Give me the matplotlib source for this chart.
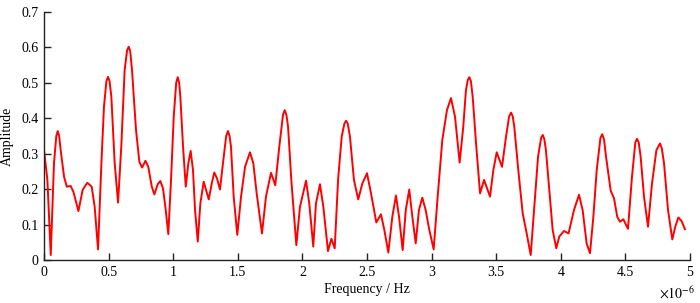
import matplotlib
matplotlib.use("Agg")
import matplotlib.pyplot as plt
from matplotlib.ticker import FuncFormatter, MultipleLocator

# Frequency in units of 1e-6 Hz, amplitude.
freq = [
    0.000, 0.026, 0.052, 0.077, 0.095, 0.106, 0.117, 0.129, 0.155, 0.176,
    0.206, 0.227, 0.266, 0.299, 0.335, 0.369, 0.392, 0.418, 0.444, 0.464,
    0.483, 0.495, 0.507, 0.521, 0.547, 0.573, 0.598, 0.624, 0.643, 0.655,
    0.667, 0.681, 0.712, 0.738, 0.759, 0.785, 0.807, 0.834, 0.854, 0.880,
    0.900, 0.921, 0.942, 0.962, 0.983, 1.004, 1.023, 1.035, 1.046, 1.055,
    1.076, 1.097, 1.117, 1.135, 1.153, 1.169, 1.190, 1.210, 1.236, 1.254,
    1.275, 1.298, 1.318, 1.339, 1.362, 1.385, 1.410, 1.424, 1.436, 1.447,
    1.468, 1.496, 1.525, 1.556, 1.594, 1.620, 1.646, 1.687, 1.718, 1.757,
    1.790, 1.821, 1.850, 1.863, 1.876, 1.889, 1.914, 1.953, 1.981, 2.028,
    2.053, 2.084, 2.105, 2.136, 2.162, 2.198, 2.224, 2.250, 2.276, 2.304,
    2.325, 2.338, 2.351, 2.368, 2.399, 2.432, 2.464, 2.500, 2.531, 2.572,
    2.608, 2.634, 2.665, 2.696, 2.724, 2.748, 2.776, 2.800, 2.827, 2.851,
    2.877, 2.902, 2.928, 2.954, 2.980, 3.016, 3.047, 3.083, 3.119, 3.150,
    3.181, 3.217, 3.245, 3.266, 3.280, 3.292, 3.304, 3.318, 3.344, 3.375,
    3.406, 3.452, 3.478, 3.504, 3.545, 3.576, 3.600, 3.615, 3.628, 3.640,
    3.671, 3.705, 3.736, 3.767, 3.793, 3.824, 3.848, 3.860, 3.872, 3.885,
    3.911, 3.937, 3.965, 3.988, 4.025, 4.060, 4.102, 4.141, 4.169, 4.200,
    4.226, 4.252, 4.278, 4.307, 4.321, 4.335, 4.350, 4.386, 4.412, 4.437,
    4.458, 4.484, 4.520, 4.551, 4.577, 4.590, 4.603, 4.618, 4.644, 4.675,
    4.706, 4.740, 4.768, 4.782, 4.799, 4.830, 4.863, 4.886, 4.910, 4.935,
    4.961,
]
amplitude = [
    0.310, 0.226, 0.014, 0.273, 0.350, 0.364, 0.350, 0.310, 0.235, 0.207,
    0.209, 0.193, 0.138, 0.198, 0.218, 0.207, 0.150, 0.030, 0.273, 0.433,
    0.505, 0.517, 0.505, 0.461, 0.273, 0.162, 0.320, 0.536, 0.592, 0.602,
    0.590, 0.536, 0.367, 0.277, 0.261, 0.280, 0.263, 0.207, 0.185, 0.214,
    0.223, 0.202, 0.141, 0.073, 0.226, 0.405, 0.500, 0.516, 0.500, 0.461,
    0.320, 0.207, 0.273, 0.308, 0.254, 0.141, 0.052, 0.160, 0.221, 0.198,
    0.171, 0.216, 0.247, 0.230, 0.199, 0.273, 0.350, 0.364, 0.350, 0.320,
    0.179, 0.071, 0.179, 0.263, 0.304, 0.273, 0.188, 0.075, 0.179, 0.246,
    0.211, 0.320, 0.410, 0.423, 0.410, 0.376, 0.226, 0.042, 0.150, 0.224,
    0.160, 0.038, 0.160, 0.214, 0.150, 0.025, 0.060, 0.033, 0.226, 0.348,
    0.385, 0.393, 0.385, 0.348, 0.226, 0.171, 0.216, 0.245, 0.188, 0.106,
    0.129, 0.085, 0.021, 0.122, 0.182, 0.122, 0.028, 0.141, 0.199, 0.122,
    0.047, 0.141, 0.176, 0.141, 0.089, 0.030, 0.179, 0.339, 0.423, 0.457,
    0.405, 0.275, 0.376, 0.480, 0.508, 0.516, 0.505, 0.461, 0.329, 0.188,
    0.226, 0.179, 0.254, 0.304, 0.263, 0.348, 0.405, 0.416, 0.405, 0.376,
    0.254, 0.132, 0.075, 0.014, 0.141, 0.292, 0.345, 0.353, 0.342, 0.310,
    0.198, 0.085, 0.033, 0.066, 0.082, 0.075, 0.141, 0.184, 0.141, 0.047,
    0.019, 0.122, 0.254, 0.345, 0.355, 0.340, 0.292, 0.196, 0.174, 0.122,
    0.108, 0.115, 0.088, 0.235, 0.332, 0.342, 0.332, 0.292, 0.179, 0.094,
    0.216, 0.310, 0.329, 0.315, 0.273, 0.141, 0.058, 0.094, 0.120, 0.110,
    0.087,
]

plt.rcParams["font.family"] = ["Liberation Serif", "DejaVu Serif"]
plt.rcParams["mathtext.fontset"] = "stix"

fig = plt.figure(figsize=(7.0, 3.03), dpi=100)
ax = fig.add_axes([0.0629, 0.1419, 0.9228, 0.8185])

ax.plot(freq, amplitude, color="#ff0000", lw=1.4, solid_joinstyle="round")

ax.set_xlim(0, 5)
ax.set_ylim(0, 0.7)
ax.xaxis.set_major_locator(MultipleLocator(0.5))
ax.yaxis.set_major_locator(MultipleLocator(0.1))
fmt = FuncFormatter(lambda v, pos: "%g" % round(v, 3))
ax.xaxis.set_major_formatter(fmt)
ax.yaxis.set_major_formatter(fmt)

for side in ["top", "right"]:
    ax.spines[side].set_visible(False)
for side in ["left", "bottom"]:
    ax.spines[side].set_color("#222222")
    ax.spines[side].set_linewidth(1.0)

ax.tick_params(direction="in", length=5, width=1.0, color="#222222",
               labelsize=10, pad=4)

ax.set_xlabel("Frequency / Hz", fontsize=10, labelpad=3)
ax.set_ylabel("Amplitude", fontsize=10, labelpad=5)
fig.text(0.967, 0.033, r"$\times10^{-6}$", fontsize=10, ha="center", va="center")

fig.savefig("out.png", dpi=100)
